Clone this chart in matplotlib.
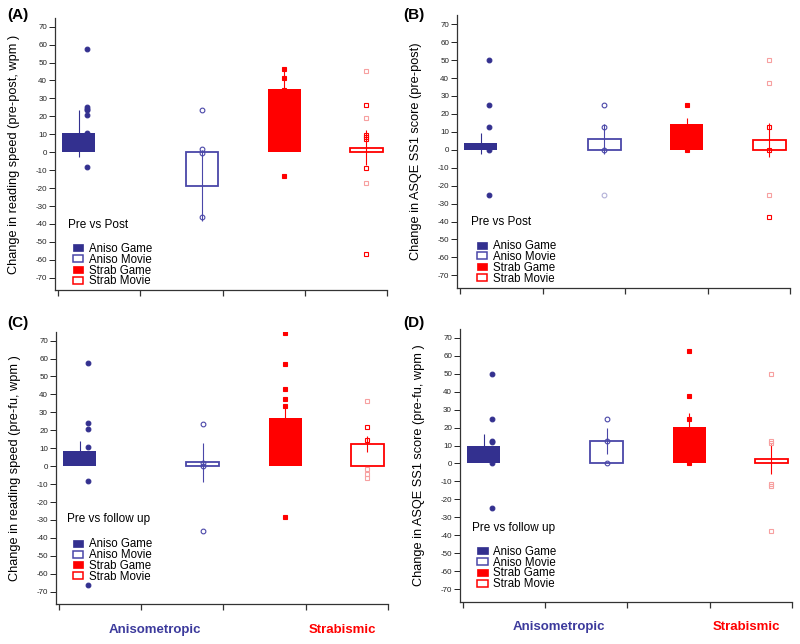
import matplotlib
matplotlib.use("Agg")
import matplotlib.pyplot as plt
from matplotlib.patches import Patch
from matplotlib.transforms import blended_transform_factory

plt.rcParams['font.family'] = ['Liberation Sans', 'DejaVu Sans']
plt.rcParams['axes.unicode_minus'] = False

# grupos e posicoes no eixo x
grupos = ["Aniso Game", "Aniso Movie", "Strab Game", "Strab Movie"]
posicoes = [0.25, 1.75, 2.75, 3.75]

# (A) velocidade de leitura, pre vs pos
barras_A = [10.6, -18.6, 35.3, 2.6]
erros_A = [13.0, 19.8, 10.5, 9.6]
pontos_A = [[57.8, 25.0, 24.0, 23.5, 21.0, 10.6, -8.2], [23.6, 2.0, -0.7, -35.9],
            [46.3, 41.3, 34.8, -13.0], [26.6, 9.5, 8.6, 7.3, -8.6, -56.5]]
fracos_A = [[], [], [], [45.4, 19.0, -17.3]]

# (B) ASQE SS1, pre vs pos
barras_B = [3.5, 6.1, 14.3, 5.2]
erros_B = [6.0, 8.5, 3.5, 9.5]
pontos_B = [[50, 25, 12.5, 0, -25], [25, 12.5, 0], [25, 0], [12.5, 0, -37.5]]
fracos_B = [[], [-25], [], [50, 37.5, -25]]

# (C) velocidade de leitura, pre vs follow up
barras_C = [8.7, 2.2, 26.6, 12.3]
erros_C = [5.2, 10.8, 7.5, 4.5]
pontos_C = [[57.8, 23.8, 21.0, 10.8, -8.2, -66.4], [23.6, 2.0, 0.0, -35.9],
            [74.0, 56.9, 43.3, 37.7, 33.5, -28.1], [21.6, 14.7]]
fracos_C = [[], [], [], [36.1, -1.7, -4.3, -6.7]]

# (D) ASQE SS1, pre vs follow up
barras_D = [9.9, 12.3, 20.6, 2.6]
erros_D = [6.6, 7.3, 7.5, 8.2]
pontos_D = [[50, 25, 12.5, 12.0, 0, -25], [25, 12.5, 0], [62.5, 37.5, 25, 0], []]
fracos_D = [[], [], [], [50, 12.5, 11.5, -11.5, -12.5, -37.5]]

yticks = list(range(-70, 80, 10))

AZUL = "#33308f"
AZUL_L = "#4a47a8"
VERM = "#ff0000"
cores = [AZUL, AZUL_L, VERM, VERM]
cores_fracas = ["#b3b1d8", "#b3b1d8", "#f7a0a0", "#f7a0a0"]
cheio = [True, False, True, False]
marcas = ["o", "o", "s", "s"]
desloc = [0.1, 0, 0, 0]


def painel(ax, barras, erros, pontos, fracos, ylabel, titulo, ytit, yleg, xtxt, xleg, grupo_labels):
    for i in range(4):
        x = posicoes[i]
        if cheio[i]:
            ax.bar(x, barras[i], width=0.4, color=cores[i], linewidth=0, zorder=1)
        else:
            ax.bar(x, barras[i], width=0.4, facecolor="white", edgecolor=cores[i],
                   linewidth=1.3, zorder=1)
        ax.errorbar(x, barras[i], yerr=erros[i], fmt="none", ecolor=cores[i],
                    elinewidth=0.8, capsize=0, zorder=2)
        xs = x + desloc[i]
        fc = cores[i] if cheio[i] else "none"
        ms = 3.4 if marcas[i] == "o" else 3.2
        if fracos[i]:
            ax.plot([xs] * len(fracos[i]), fracos[i], linestyle="none", marker=marcas[i],
                    ms=ms, mfc="none", mec=cores_fracas[i], mew=0.8, zorder=3)
        if pontos[i]:
            ax.plot([xs] * len(pontos[i]), pontos[i], linestyle="none", marker=marcas[i],
                    ms=ms, mfc=fc, mec=cores[i], mew=0.8, zorder=3)

    ax.set_xlim(-0.04, 4.0)
    ax.set_ylim(-77, 75)
    ax.set_xticks([0, 1, 2, 3, 4])
    ax.set_xticklabels([])
    ax.set_yticks(yticks)
    ax.tick_params(axis="y", labelsize=5.8, length=4, width=0.7, pad=1.5, colors="#222222")
    ax.tick_params(axis="x", length=4.5, width=0.9, colors="#333333")
    for s in ["top", "right"]:
        ax.spines[s].set_visible(False)
    for s in ["left", "bottom"]:
        ax.spines[s].set_linewidth(0.9)
        ax.spines[s].set_color("#333333")
    ax.set_ylabel(ylabel, fontsize=9.2)
    ax.yaxis.set_label_coords(-0.105, 0.5)

    ax.text(xtxt, ytit, titulo, transform=ax.transAxes, fontsize=8.5, va="center", ha="left")
    handles = []
    for i in range(4):
        if cheio[i]:
            handles.append(Patch(facecolor=cores[i], edgecolor=cores[i], linewidth=0.5))
        else:
            handles.append(Patch(facecolor="white", edgecolor=cores[i], linewidth=1.1))
    ax.legend(handles, grupos, loc="upper left", bbox_to_anchor=(xleg, yleg),
              frameon=False, fontsize=8.3, handlelength=0.9, handleheight=0.55,
              labelspacing=-0.1, handletextpad=0.5, borderpad=0, borderaxespad=0)

    if grupo_labels:
        tr = blended_transform_factory(ax.transData, ax.transAxes)
        ax.text(1.17, -0.095, "Anisometropic", transform=tr, ha="center", va="center",
                fontsize=9.5, fontweight="bold", color="#3c3a9c")
        ax.text(3.45, -0.095, "Strabismic", transform=tr, ha="center", va="center",
                fontsize=9.5, fontweight="bold", color=VERM)


fig = plt.figure(figsize=(8, 6.44), dpi=100)
axA = fig.add_axes([0.0684, 0.5492, 0.4154, 0.4233])
axB = fig.add_axes([0.5709, 0.5530, 0.4166, 0.4233])
axC = fig.add_axes([0.0696, 0.0617, 0.4154, 0.4233])
axD = fig.add_axes([0.5746, 0.0659, 0.4154, 0.4233])

painel(axA, barras_A, erros_A, pontos_A, fracos_A, "Change in reading speed (pre-post, wpm )",
       "Pre vs Post", 0.24, 0.174, 0.04, 0.054, False)
painel(axB, barras_B, erros_B, pontos_B, fracos_B, "Change in ASQE SS1 score (pre-post)",
       "Pre vs Post", 0.241, 0.175, 0.043, 0.061, False)
painel(axC, barras_C, erros_C, pontos_C, fracos_C, "Change in reading speed (pre-fu, wpm )",
       "Pre vs follow up", 0.313, 0.242, 0.034, 0.052, True)
painel(axD, barras_D, erros_D, pontos_D, fracos_D, "Change in ASQE SS1 score (pre-fu, wpm )",
       "Pre vs follow up", 0.27, 0.205, 0.036, 0.053, True)

fig.text(7 / 800, 1 - 15 / 644, "(A)", fontsize=11, fontweight="bold", va="center")
fig.text(403 / 800, 1 - 15 / 644, "(B)", fontsize=11, fontweight="bold", va="center")
fig.text(7 / 800, 1 - 323 / 644, "(C)", fontsize=11, fontweight="bold", va="center")
fig.text(403 / 800, 1 - 323 / 644, "(D)", fontsize=11, fontweight="bold", va="center")

fig.savefig("out.png", dpi=100)
